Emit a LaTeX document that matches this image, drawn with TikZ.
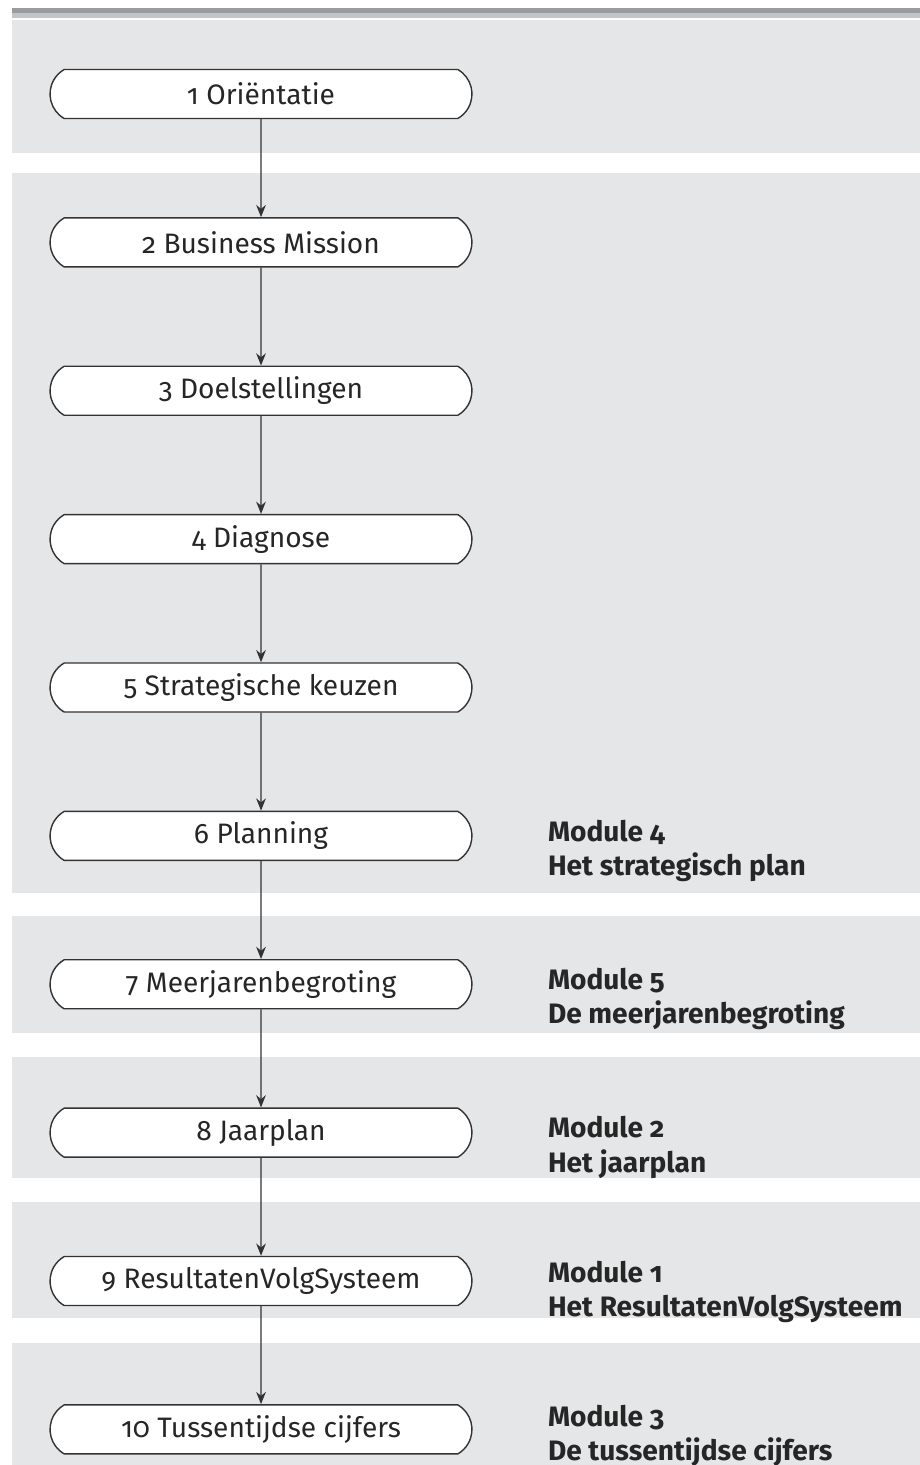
\documentclass[tikz,border=0pt]{standalone}
\usepackage{fontspec}
\setmainfont{Fira Sans}[Numbers=OldStyle]
\usetikzlibrary{shapes.misc,arrows.meta,positioning}
\definecolor{bandgray}{HTML}{E4E6E8}
\definecolor{bardark}{HTML}{989CA0}
\definecolor{barlight}{HTML}{C2C5C8}
\definecolor{linegray}{HTML}{333333}

\begin{document}
\begin{tikzpicture}[x=0.02cm,y=-0.02cm,node distance=1.96cm,
  stage/.style={rounded rectangle,rounded rectangle arc length=120,draw=linegray,line width=0.8pt,fill=white,
    minimum width=8.44cm,minimum height=0.98cm,inner sep=0pt,text=black!85,font=\fontsize{16}{19}\selectfont},
  module/.style={anchor=north west,inner sep=0pt,align=left,text=black!85,font=\fontsize{16}{19.5}\selectfont\bfseries},
  flow/.style={-{Stealth[length=7pt,width=5.5pt]},line width=0.8pt,linegray}]
  \useasboundingbox (0,0) rectangle (920,1465);
  % Background bands
  \fill[bardark] (12,8) rectangle (920,13);
  \fill[barlight] (12,13) rectangle (920,18);
  \fill[bandgray] (12,20) rectangle (920,153);
  \fill[bandgray] (12,173) rectangle (920,893);
  \fill[bandgray] (12,916) rectangle (920,1033);
  \fill[bandgray] (12,1057) rectangle (920,1178);
  \fill[bandgray] (12,1202) rectangle (920,1318);
  \fill[bandgray] (12,1343) rectangle (920,1465);

  % Nodes
  \node[stage] (orient) at (261,94) {1 Oriëntatie};
  \node[stage,below=of orient] (mission) {2 Business Mission};
  \node[stage,below=of mission] (goals) {3 Doelstellingen};
  \node[stage,below=of goals] (diag) {4 Diagnose};
  \node[stage,below=of diag] (choice) {5 Strategische keuzen};
  \node[stage,below=of choice] (plan) {6 Planning};
  \node[stage,below=of plan] (budget) {7 Meerjarenbegroting};
  \node[stage,below=of budget] (year) {8 Jaarplan};
  \node[stage,below=of year] (rvs) {9 ResultatenVolgSysteem};
  \node[stage,below=of rvs] (interim) {10 Tussentijdse cijfers};

  % Module labels
  \node[module] (mod4) at ([xshift=1.5cm,yshift=0.33cm]plan.east) {Module 4\\Het strategisch plan};
  \node[module] (mod5) at ([xshift=1.5cm,yshift=0.33cm]budget.east) {Module 5\\De meerjarenbegroting};
  \node[module] (mod2) at ([xshift=1.5cm,yshift=0.33cm]year.east) {Module 2\\Het jaarplan};
  \node[module] (mod1) at ([xshift=1.5cm,yshift=0.4cm]rvs.east) {Module 1\\Het ResultatenVolgSysteem};
  \node[module] (mod3) at ([xshift=1.5cm,yshift=0.5cm]interim.east) {Module 3\\De tussentijdse cijfers};

  % Arrows
  \draw[flow] (orient) -- (mission);
  \draw[flow] (mission) -- (goals);
  \draw[flow] (goals) -- (diag);
  \draw[flow] (diag) -- (choice);
  \draw[flow] (choice) -- (plan);
  \draw[flow] (plan) -- (budget);
  \draw[flow] (budget) -- (year);
  \draw[flow] (year) -- (rvs);
  \draw[flow] (rvs) -- (interim);
\end{tikzpicture}
\end{document}
